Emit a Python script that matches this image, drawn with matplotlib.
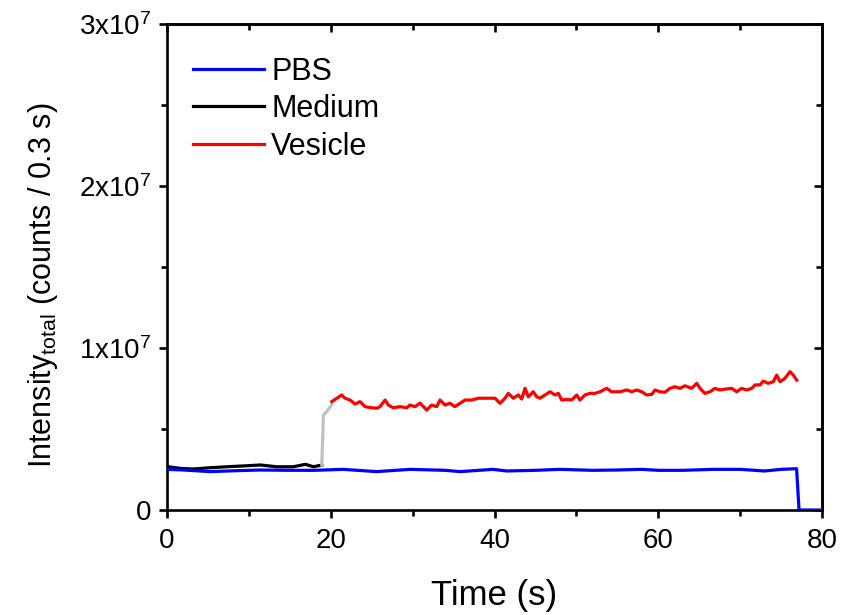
import matplotlib
matplotlib.use("Agg")
import matplotlib.pyplot as plt
from matplotlib.ticker import MultipleLocator, FixedLocator
from matplotlib.lines import Line2D

plt.rcParams["font.family"] = ["Liberation Sans", "DejaVu Sans"]
plt.rcParams["mathtext.fontset"] = "custom"
plt.rcParams["mathtext.rm"] = "Liberation Sans"
plt.rcParams["mathtext.it"] = "Liberation Sans"
plt.rcParams["mathtext.bf"] = "Liberation Sans:bold"

# Dati (tempo in s, intensita' in unita' di 1e6 conteggi)
pbs_t = [0.0, 2.0, 5.25, 8.0, 11.4, 15.0, 18.0, 21.5, 25.6, 29.7, 34.0, 35.8,
         39.8, 41.5, 45.0, 48.0, 52.0, 55.0, 58.0, 60.0, 63.0, 66.7, 70.0,
         73.0, 75.0, 76.9, 77.2, 80.0]
pbs_v = [2.51, 2.47, 2.37, 2.42, 2.47, 2.45, 2.45, 2.51, 2.37, 2.51, 2.45, 2.37,
         2.51, 2.41, 2.45, 2.51, 2.45, 2.47, 2.51, 2.45, 2.45, 2.51, 2.51,
         2.41, 2.51, 2.55, 0.0, 0.0]

medium_t = [0.16, 1.6, 3.2, 5.25, 7.3, 9.3, 11.4, 13.4, 15.4, 16.9, 17.9, 18.9]
medium_v = [2.67, 2.57, 2.53, 2.61, 2.67, 2.72, 2.78, 2.67, 2.67, 2.82, 2.67, 2.78]

transition_t = [18.9, 19.1, 19.5, 20.1]
transition_v = [2.78, 5.86, 6.07, 6.48]

vesicle_t = [20.12, 21.34, 21.74, 22.35, 22.96, 23.57, 24.18, 25.00, 25.61, 26.02,
             26.63, 27.03, 27.64, 28.46, 29.28, 29.68, 30.29, 30.90, 31.72, 32.33,
             32.94, 33.34, 33.95, 34.56, 35.18, 35.79, 36.40, 37.22, 38.02, 38.63,
             39.24, 40.06, 40.67, 41.28, 41.69, 42.30, 42.91, 43.32, 43.73, 44.13,
             44.74, 45.16, 45.56, 46.17, 46.78, 47.39, 47.79, 48.21, 48.82, 49.43,
             50.04, 50.44, 51.05, 51.66, 52.27, 52.89, 53.70, 54.31, 55.33, 56.15,
             56.76, 57.37, 57.98, 58.59, 59.20, 59.60, 60.21, 60.82, 61.43, 62.05,
             62.66, 63.27, 64.09, 64.70, 65.10, 65.71, 66.32, 66.93, 67.54, 68.15,
             68.97, 69.58, 70.19, 70.80, 71.41, 71.82, 72.43, 72.83, 73.44, 74.05,
             74.47, 74.87, 75.48, 76.09, 76.50, 76.91]
vesicle_v = [6.69, 7.10, 6.90, 6.79, 6.54, 6.69, 6.38, 6.31, 6.28, 6.38,
             6.79, 6.48, 6.31, 6.38, 6.31, 6.48, 6.38, 6.60, 6.17, 6.48,
             6.38, 6.79, 6.48, 6.59, 6.38, 6.59, 6.79, 6.79, 6.90, 6.90,
             6.90, 6.90, 6.59, 6.90, 7.20, 6.90, 7.10, 6.85, 7.51, 6.99,
             7.30, 6.99, 6.90, 7.10, 7.30, 7.10, 7.20, 6.79, 6.83, 6.79,
             7.10, 6.79, 7.10, 7.20, 7.20, 7.30, 7.51, 7.30, 7.30, 7.41,
             7.30, 7.41, 7.30, 7.10, 7.14, 7.41, 7.30, 7.27, 7.51, 7.61,
             7.51, 7.67, 7.51, 7.82, 7.51, 7.20, 7.30, 7.51, 7.41, 7.46,
             7.51, 7.30, 7.51, 7.41, 7.51, 7.72, 7.72, 7.96, 7.82, 7.92,
             8.33, 7.92, 8.13, 8.54, 8.33, 8.02]

y_ticks = [0, 1e7, 2e7, 3e7]
y_tick_labels = ["0", "1x10$^{7}$", "2x10$^{7}$", "3x10$^{7}$"]
x_ticks = [0, 20, 40, 60, 80]


def scale(vals):
    return [v * 1e6 for v in vals]


fig = plt.figure(figsize=(8.54, 6.15), dpi=100)
ax = fig.add_axes([0.1956, 0.1707, 0.7669, 0.7903])

lw = 2.3
ax.plot(medium_t, scale(medium_v), color="black", lw=lw, zorder=2)
ax.plot(transition_t, scale(transition_v), color="#c0c0c0", lw=lw, zorder=2)
ax.plot(vesicle_t, scale(vesicle_v), color="#ff0000", lw=lw, zorder=2)
ax.plot(pbs_t, scale(pbs_v), color="#0000ff", lw=lw, zorder=3)

ax.set_xlim(0, 80)
ax.set_ylim(0, 3e7)
ax.xaxis.set_major_locator(FixedLocator(x_ticks))
ax.xaxis.set_minor_locator(MultipleLocator(10))
ax.yaxis.set_major_locator(FixedLocator(y_ticks))
ax.yaxis.set_minor_locator(MultipleLocator(5e6))
ax.set_yticklabels(y_tick_labels)

for sp in ax.spines.values():
    sp.set_linewidth(1.9)
ax.tick_params(which="major", direction="out", length=6, width=1.9,
               labelsize=20, pad=5)
ax.tick_params(axis="x", which="major", pad=7)
ax.tick_params(which="minor", direction="out", length=4, width=1.9)

# assi secondari in alto e a destra con tacche verso l'interno
top = ax.secondary_xaxis("top")
top.xaxis.set_major_locator(FixedLocator(x_ticks))
top.xaxis.set_minor_locator(MultipleLocator(10))
top.tick_params(which="both", direction="in", width=1.9, labeltop=False)
top.tick_params(which="major", length=6)
top.tick_params(which="minor", length=4)
top.spines["top"].set_linewidth(1.9)

right = ax.secondary_yaxis("right")
right.yaxis.set_major_locator(FixedLocator(y_ticks))
right.yaxis.set_minor_locator(MultipleLocator(5e6))
right.tick_params(which="both", direction="in", width=1.9, labelright=False)
right.tick_params(which="major", length=6)
right.tick_params(which="minor", length=4)
right.spines["right"].set_linewidth(1.9)

ax.set_xlabel("Time (s)", fontsize=25, labelpad=18)
ax.set_ylabel(r"Intensity$_{\mathrm{total}}$ (counts / 0.3 s)", fontsize=22)
ax.yaxis.set_label_coords(-0.164, 0.463)

handles = [Line2D([], [], color="#0000ff", lw=2.3),
           Line2D([], [], color="black", lw=2.3),
           Line2D([], [], color="#ff0000", lw=2.3)]
ax.legend(handles, ["PBS", "Medium", "Vesicle"], loc="upper left",
          frameon=False, fontsize=22, handlelength=2.3, handletextpad=0.25,
          labelspacing=0.25, borderpad=0, borderaxespad=0,
          bbox_to_anchor=(0.04, 0.933))

fig.savefig("out.png", dpi=100)
